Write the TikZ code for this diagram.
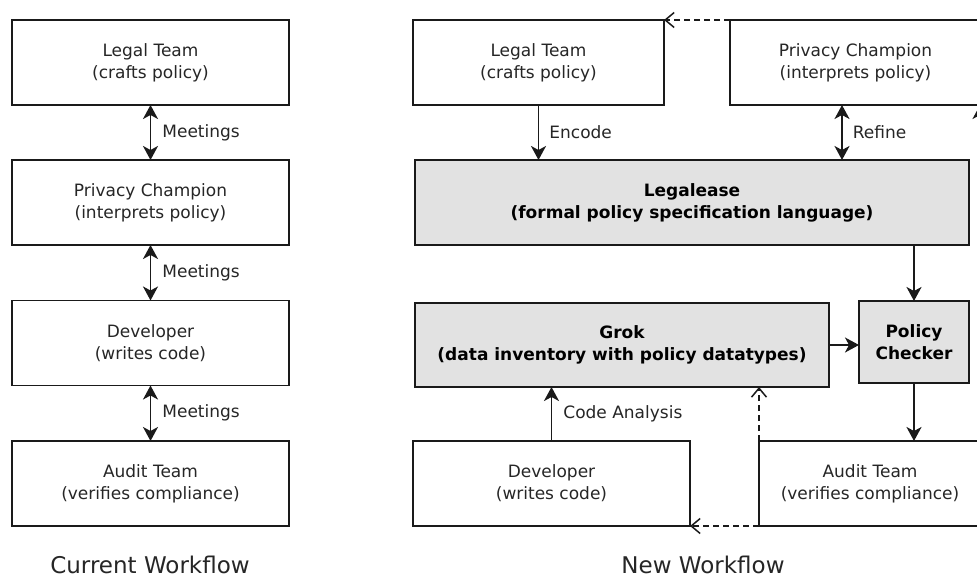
\documentclass[tikz,border=0pt]{standalone}
\usepackage{fontspec}
\setmainfont{DejaVu Sans}
\usetikzlibrary{arrows.meta,calc}
\definecolor{linec}{HTML}{1A1A1A}
\definecolor{textc}{HTML}{262626}
\definecolor{boxfill}{HTML}{E2E2E2}
\begin{document}
\begin{tikzpicture}[x=1pt,y=-1pt,
  box/.style={draw=linec, line width=1.8pt, inner sep=0pt, outer sep=0pt, align=center, text=textc, font=\fontsize{17}{22}\selectfont},
  graybox/.style={box, fill=boxfill, text=black, font=\bfseries\fontsize{17}{22}\selectfont},
  lbl/.style={text=textc, font=\fontsize{17}{22}\selectfont, inner sep=0pt, anchor=west},
  wftitle/.style={text=textc, font=\fontsize{23}{28}\selectfont, inner sep=0pt},
  arr/.style={draw=linec, line width=1.8pt, -{Stealth[length=14pt,width=15pt,inset=4pt]}},
  darr/.style={draw=linec, line width=1.8pt, {Stealth[length=14pt,width=15pt,inset=4pt]}-{Stealth[length=14pt,width=15pt,inset=4pt]}},
  dasharr/.style={draw=linec, line width=1.5pt, dash pattern=on 6pt off 4pt, -{Straight Barb[length=9pt,width=15pt]}}
]
\useasboundingbox (0,0) rectangle (977,578);
\clip (0,0) rectangle (977,578);
\fill[white] (0,0) rectangle (977,578);

% Current workflow
\node[box, minimum width=277, minimum height=85] (llegal) at (150.5,62.5) {Legal Team\\(crafts policy)};
\node[box, minimum width=277, minimum height=85] (lpriv) at (150.5,202.5) {Privacy Champion\\(interprets policy)};
\node[box, minimum width=277, minimum height=85] (ldev) at (150.5,343) {Developer\\(writes code)};
\node[box, minimum width=277, minimum height=85] (laudit) at (150.5,483.5) {Audit Team\\(verifies compliance)};

\draw[darr] (llegal.south) -- (lpriv.north) node[midway, lbl, xshift=11pt] {Meetings};
\draw[darr] (lpriv.south) -- (ldev.north) node[midway, lbl, xshift=11pt] {Meetings};
\draw[darr] (ldev.south) -- (laudit.north) node[midway, lbl, xshift=11pt] {Meetings};

\node[wftitle] (t1) at (150,565) {Current Workflow};

% New workflow
\node[box, minimum width=251, minimum height=85] (rlegal) at (538.5,62.5) {Legal Team\\(crafts policy)};
\node[box, minimum width=251, minimum height=85] (rpriv) at (855.5,62.5) {Privacy Champion\\(interprets policy)};
\node[graybox, minimum width=554, minimum height=85] (legalease) at (692,202.5) {Legalease\\(formal policy specification language)};
\node[graybox, minimum width=414, minimum height=84] (grok) at (622,345) {Grok\\(data inventory with policy datatypes)};
\node[graybox, minimum width=110, minimum height=82] (checker) at (914,342) {Policy\\Checker};
\node[box, minimum width=277, minimum height=85] (rdev) at (551.5,483.5) {Developer\\(writes code)};
\node[box, minimum width=222, minimum height=85] (raudit) at (870,483.5) {Audit Team\\(verifies compliance)};

\draw[dasharr] (rpriv.north west) -- (rlegal.north east);
\draw[arr] (rlegal.south) -- (legalease.north -| rlegal.south) node[midway, lbl, xshift=10pt] {Encode};
\draw[darr] (842,0 |- rpriv.south) -- (842,0 |- legalease.north) node[midway, lbl, xshift=10pt] {Refine};
\draw[arr] (legalease.south -| checker.north) -- (checker.north);
\draw[arr] (grok.east) -- (checker.west |- grok.east);
\draw[arr] (checker.south) -- (raudit.north -| checker.south);
\draw[arr] (rdev.north) -- (grok.south -| rdev.north) node[midway, lbl, xshift=11pt] {Code Analysis};
\draw[dasharr] (raudit.north west) -- (grok.south -| raudit.north west);
\draw[dasharr] (raudit.south west) -- (rdev.south east);
\draw[arr] (980,0 |- raudit.north) -- (980,0 |- rpriv.south);

\node[wftitle] (t2) at (703,565) {New Workflow};
\end{tikzpicture}
\end{document}
